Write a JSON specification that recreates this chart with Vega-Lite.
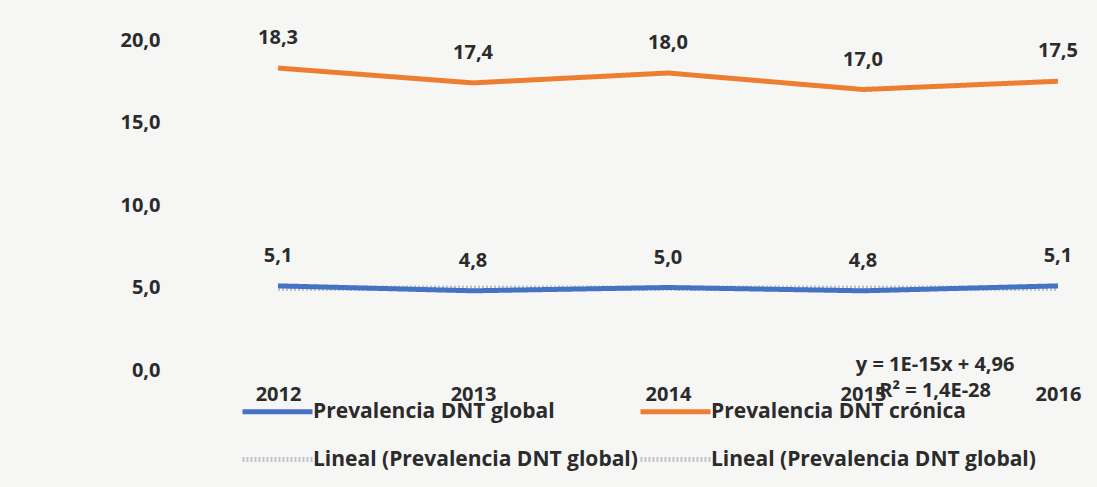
{
  "$schema": "https://vega.github.io/schema/vega-lite/v6.json",
  "width": 910,
  "height": 330,
  "autosize": "none",
  "padding": {"left": 170, "top": 40, "right": 17, "bottom": 117},
  "background": "#f6f6f5",
  "config": {
    "view": {"stroke": null},
    "font": "Open Sans",
    "text": {"font": "Open Sans"}
  },
  "datasets": {
    "series": [
      {"serie": "Lineal (Prevalencia DNT global)", "year": 2012, "value": 4.96},
      {"serie": "Lineal (Prevalencia DNT global)", "year": 2016, "value": 4.96},
      {"serie": "Lineal (Prevalencia DNT global) ", "year": 2012, "value": 4.96},
      {"serie": "Lineal (Prevalencia DNT global) ", "year": 2016, "value": 4.96},
      {"serie": "Prevalencia DNT global", "year": 2012, "value": 5.1},
      {"serie": "Prevalencia DNT global", "year": 2013, "value": 4.8},
      {"serie": "Prevalencia DNT global", "year": 2014, "value": 5.0},
      {"serie": "Prevalencia DNT global", "year": 2015, "value": 4.8},
      {"serie": "Prevalencia DNT global", "year": 2016, "value": 5.1},
      {"serie": "Prevalencia DNT crónica", "year": 2012, "value": 18.3},
      {"serie": "Prevalencia DNT crónica", "year": 2013, "value": 17.4},
      {"serie": "Prevalencia DNT crónica", "year": 2014, "value": 18.0},
      {"serie": "Prevalencia DNT crónica", "year": 2015, "value": 17.0},
      {"serie": "Prevalencia DNT crónica", "year": 2016, "value": 17.5}
    ],
    "equation": [
      {"year": 2015.37, "value": 0.3, "label": "y = 1E-15x + 4,96"},
      {"year": 2015.37, "value": -1.25, "label": "R² = 1,4E-28"}
    ]
  },
  "layer": [
    {
      "data": {"name": "series"},
      "mark": {"type": "line", "strokeCap": "butt"},
      "encoding": {
        "x": {
          "field": "year", "type": "quantitative",
          "scale": {"domain": [2011.446, 2016.113], "nice": false, "zero": false},
          "axis": {
            "title": null, "values": [2012, 2013, 2014, 2015, 2016], "format": "d",
            "grid": false, "domain": false, "ticks": false,
            "labelFlush": false, "labelOverlap": false,
            "labelPadding": 14, "labelDx": -10,
            "labelFont": "Open Sans", "labelFontSize": 20, "labelFontWeight": "bold", "labelColor": "#2b2b2b"
          }
        },
        "y": {
          "field": "value", "type": "quantitative",
          "scale": {"domain": [0, 20], "nice": false},
          "axis": {
            "title": null, "values": [0, 5, 10, 15, 20],
            "labelExpr": "replace(format(datum.value, '.1f'), '.', ',')",
            "grid": false, "domain": false, "ticks": false,
            "labelPadding": 10,
            "labelFont": "Open Sans", "labelFontSize": 20, "labelFontWeight": "bold", "labelColor": "#2b2b2b"
          }
        },
        "color": {
          "field": "serie", "type": "nominal",
          "scale": {
            "domain": ["Prevalencia DNT global", "Prevalencia DNT crónica", "Lineal (Prevalencia DNT global)", "Lineal (Prevalencia DNT global) "],
            "range": ["#4472C4", "#ED7D31", "#bcc3cc", "#bcc3cc"]
          },
          "legend": {
            "title": null, "orient": "none", "legendX": 70, "legendY": 334,
            "direction": "horizontal", "columns": 2, "columnPadding": -85, "rowPadding": -22,
            "symbolType": "stroke", "symbolSize": 4900, "symbolOffset": 0, "labelOffset": -2,
            "labelFont": "Open Sans", "labelFontSize": 21, "labelFontWeight": "bold", "labelColor": "#2b2b2b",
            "labelLimit": 500
          }
        },
        "strokeDash": {
          "field": "serie", "type": "nominal",
          "scale": {
            "domain": ["Prevalencia DNT global", "Prevalencia DNT crónica", "Lineal (Prevalencia DNT global)", "Lineal (Prevalencia DNT global) "],
            "range": [[1, 0], [1, 0], [2, 2], [2, 2]]
          },
          "legend": null
        },
        "strokeWidth": {
          "field": "serie", "type": "nominal",
          "scale": {
            "domain": ["Prevalencia DNT global", "Prevalencia DNT crónica", "Lineal (Prevalencia DNT global)", "Lineal (Prevalencia DNT global) "],
            "range": [5, 5, 1.5, 1.5]
          },
          "legend": null
        }
      }
    },
    {
      "data": {"name": "series"},
      "transform": [
        {"filter": "indexof(datum.serie, 'Lineal') < 0"},
        {"calculate": "replace(format(datum.value, '.1f'), '.', ',')", "as": "label"}
      ],
      "mark": {"type": "text", "dy": -30, "font": "Open Sans", "fontSize": 20, "fontWeight": "bold", "color": "#2b2b2b"},
      "encoding": {
        "x": {"field": "year", "type": "quantitative"},
        "y": {"field": "value", "type": "quantitative"},
        "text": {"field": "label"}
      }
    },
    {
      "data": {"name": "equation"},
      "mark": {"type": "text", "font": "Open Sans", "fontSize": 20, "fontWeight": "bold", "color": "#2b2b2b"},
      "encoding": {
        "x": {"field": "year", "type": "quantitative"},
        "y": {"field": "value", "type": "quantitative"},
        "text": {"field": "label"}
      }
    }
  ]
}
